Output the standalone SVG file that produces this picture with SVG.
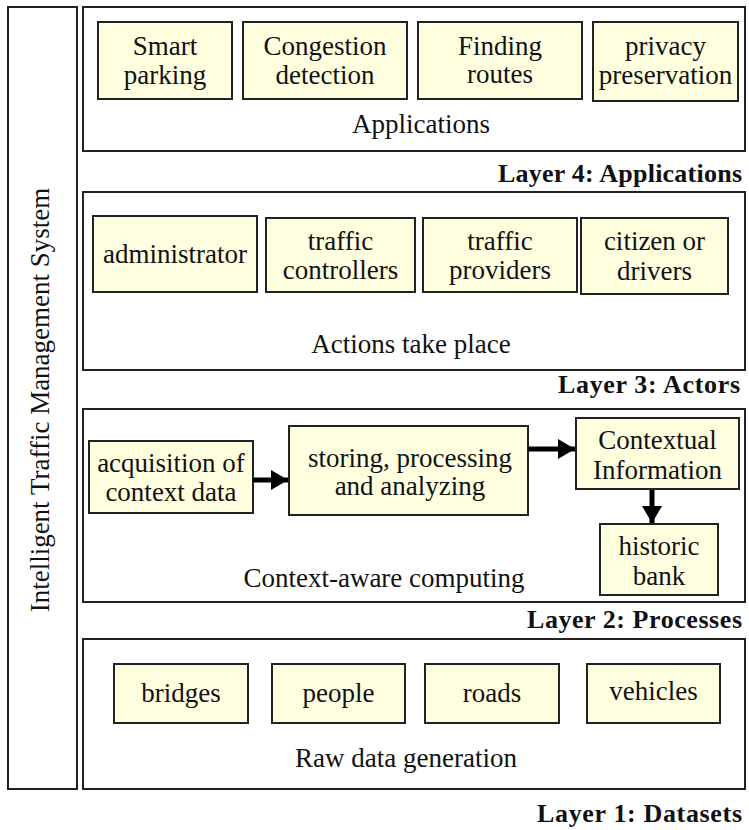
<svg xmlns="http://www.w3.org/2000/svg" width="749" height="830" viewBox="0 0 749 830">
<defs>
<style>
.frame{fill:#fff;stroke:#222;stroke-width:2}
.node{fill:#ffffe0;stroke:#222;stroke-width:2}
.t{font-family:"Liberation Serif","Times New Roman",serif;font-size:27px;fill:#111;text-anchor:middle}
.lbl{font-family:"Liberation Serif","Times New Roman",serif;font-size:26px;font-weight:bold;fill:#111;text-anchor:start}
.conn{stroke:#000;stroke-width:5;fill:none}
</style>
<marker id="ah" markerUnits="userSpaceOnUse" markerWidth="17" markerHeight="20" refX="17" refY="10" orient="auto">
<path d="M0,0 L17,10 L0,20 z" fill="#000"/>
</marker>
</defs>
<rect width="749" height="830" fill="#fff"/>

<g id="system">
<rect class="frame" x="8" y="7" width="69" height="782"/>
<text class="t" transform="translate(49,400) rotate(-90)">Intelligent Traffic Management System</text>
</g>

<g id="layer4">
<rect class="frame" x="83" y="7" width="662" height="144"/>
<text class="t" x="421" y="133">Applications</text>
<text class="lbl" x="498" y="182" textLength="244" lengthAdjust="spacing">Layer 4: Applications</text>
</g>
<g id="smart-parking"><rect class="node" x="98" y="22" width="134" height="77"/><text class="t" x="165" y="55">Smart</text><text class="t" x="165" y="84">parking</text></g>
<g id="congestion-detection"><rect class="node" x="243" y="22" width="164" height="77"/><text class="t" x="325" y="55">Congestion</text><text class="t" x="325" y="84">detection</text></g>
<g id="finding-routes"><rect class="node" x="418" y="22" width="164" height="77"/><text class="t" x="500" y="55">Finding</text><text class="t" x="500" y="83">routes</text></g>
<g id="privacy-preservation"><rect class="node" x="593" y="22" width="145" height="79"/><text class="t" x="665.5" y="55">privacy</text><text class="t" x="665.5" y="84">preservation</text></g>

<g id="layer3">
<rect class="frame" x="83" y="192" width="662" height="178"/>
<text class="t" x="411" y="353">Actions take place</text>
<text class="lbl" x="558" y="393" textLength="182" lengthAdjust="spacing">Layer 3: Actors</text>
</g>
<g id="administrator"><rect class="node" x="93" y="216" width="164" height="76"/><text class="t" x="175" y="263">administrator</text></g>
<g id="traffic-controllers"><rect class="node" x="266" y="218" width="149" height="74"/><text class="t" x="340.5" y="250">traffic</text><text class="t" x="340.5" y="279">controllers</text></g>
<g id="traffic-providers"><rect class="node" x="423" y="218" width="154" height="74"/><text class="t" x="500" y="250">traffic</text><text class="t" x="500" y="279">providers</text></g>
<g id="citizen-drivers"><rect class="node" x="581" y="218" width="147" height="76"/><text class="t" x="654.5" y="250">citizen or</text><text class="t" x="654.5" y="280">drivers</text></g>

<g id="layer2">
<rect class="frame" x="83" y="409" width="662" height="193"/>
<text class="t" x="384" y="587">Context-aware computing</text>
<text class="lbl" x="527" y="628" textLength="215" lengthAdjust="spacing">Layer 2: Processes</text>
</g>
<g id="acquisition"><rect class="node" x="89" y="441" width="164" height="72"/><text class="t" x="171" y="472">acquisition of</text><text class="t" x="171" y="501">context data</text></g>
<g id="storing"><rect class="node" x="289" y="426" width="239" height="89"/><text class="t" x="410" y="467">storing, processing</text><text class="t" x="410" y="495">and analyzing</text></g>
<g id="contextual-information"><rect class="node" x="576" y="418" width="163" height="71"/><text class="t" x="657.5" y="449">Contextual</text><text class="t" x="657.5" y="479">Information</text></g>
<g id="historic-bank"><rect class="node" x="600" y="524" width="118" height="71"/><text class="t" x="659" y="555">historic</text><text class="t" x="659" y="585">bank</text></g>

<g id="layer1">
<rect class="frame" x="83" y="639" width="662" height="150"/>
<text class="t" x="406" y="767">Raw data generation</text>
<text class="lbl" x="537" y="822" textLength="205" lengthAdjust="spacing">Layer 1: Datasets</text>
</g>
<g id="bridges"><rect class="node" x="114" y="664" width="134" height="59"/><text class="t" x="181" y="702">bridges</text></g>
<g id="people"><rect class="node" x="272" y="664" width="133" height="59"/><text class="t" x="338.5" y="702">people</text></g>
<g id="roads"><rect class="node" x="425" y="664" width="134" height="59"/><text class="t" x="492" y="702">roads</text></g>
<g id="vehicles"><rect class="node" x="587" y="664" width="133" height="59"/><text class="t" x="653.5" y="700">vehicles</text></g>

<g id="connectors">
<line class="conn" x1="253" y1="480" x2="288" y2="480" marker-end="url(#ah)"/>
<line class="conn" x1="528" y1="449" x2="575" y2="449" marker-end="url(#ah)"/>
<line class="conn" x1="652" y1="490" x2="652" y2="523" marker-end="url(#ah)"/>
</g>
</svg>
